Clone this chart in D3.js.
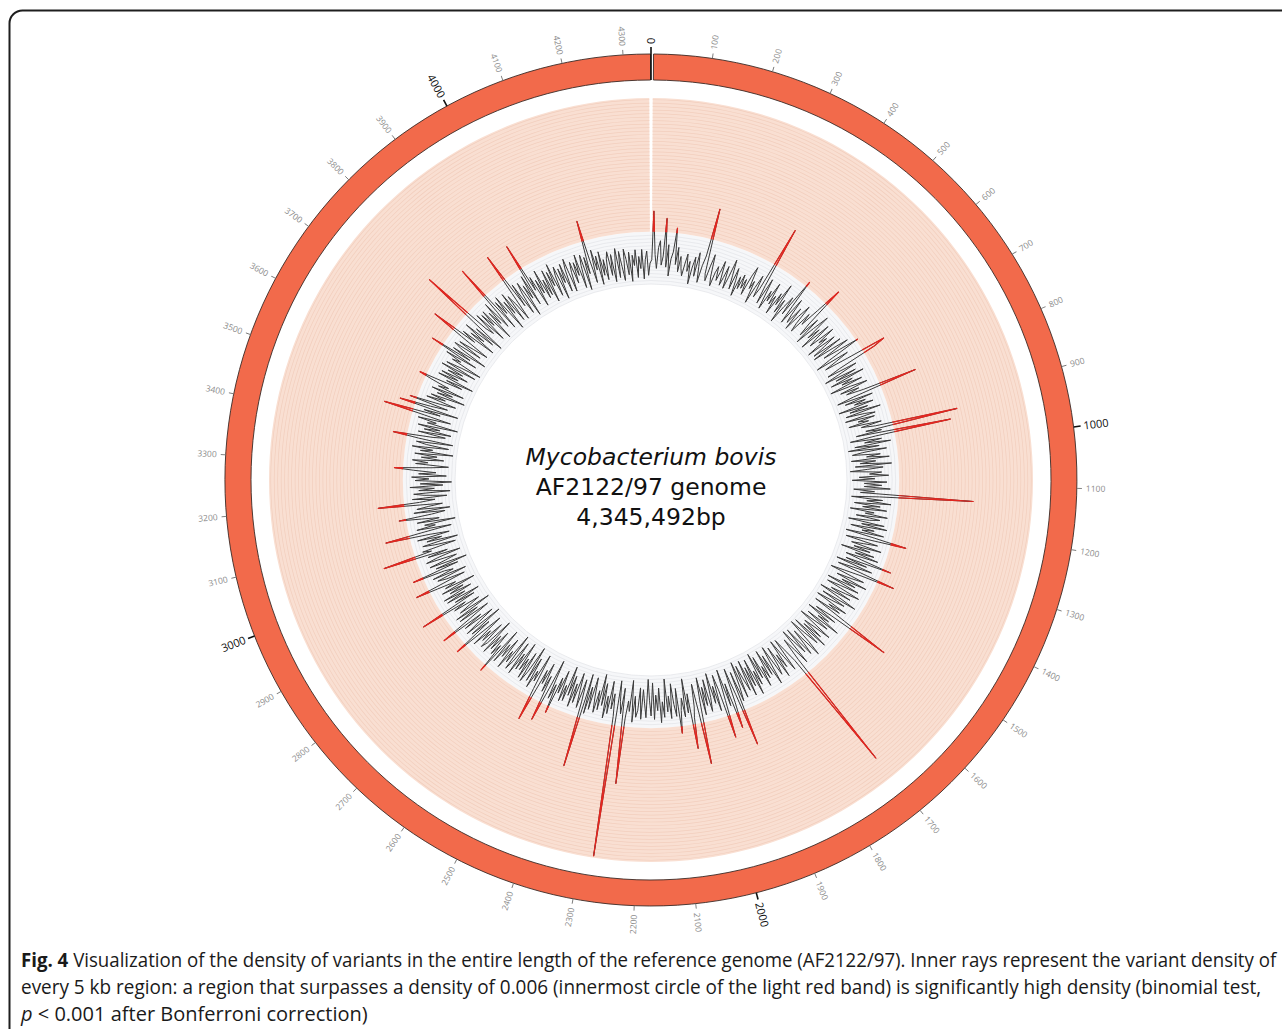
<!DOCTYPE html>
<html>
<head>
<meta charset="utf-8">
<script src="https://cdn.jsdelivr.net/npm/d3@7/dist/d3.min.js"></script>
<style>
  html, body { margin: 0; padding: 0; background: #fff; }
  svg { display: block; }
</style>
</head>
<body>
<svg id="chart" width="1282" height="1029"></svg>
<script>
// Genome and window settings
const genomeLength = 4345492;
const windowSize = 5000;
const thresholdCount = 30;      // 0.006 density = 30 variants per 5 kb
const bandMaxCount = 107;       // outer edge of the light red band

// Variants per 5 kb window, in genome order
const variantCounts = [
  14,42,17,9,21,25,11,16,38,10,23,5,15,19,33,12,22,8,17,10,
  6,13,19,9,15,2,12,18,7,21,13,4,14,20,48,10,6,15,22,9,
  4,12,16,8,13,20,6,11,18,5,12,23,14,6,19,12,3,15,8,17,
  9,15,6,18,24,11,16,3,13,21,8,14,53,17,6,22,12,4,16,10,
  22,9,15,4,18,11,25,7,16,2,13,20,9,33,16,5,22,12,7,18,
  4,14,22,10,5,19,12,24,40,15,7,20,3,15,25,9,17,3,22,12,
  7,23,12,17,3,21,13,5,23,4,16,26,9,19,31,11,2,22,14,6,
  20,44,37,13,5,23,12,2,21,8,25,4,17,10,22,2,14,24,7,18,
  10,20,52,13,3,24,7,19,12,23,2,19,8,26,5,16,22,4,21,11,
  17,5,24,12,20,68,14,23,8,63,19,4,22,12,27,6,20,2,24,10,
  4,20,12,25,3,17,8,26,5,21,12,2,20,13,24,7,16,3,23,10,
  20,10,25,4,16,8,73,19,3,21,12,26,5,20,10,24,3,17,12,25,
  7,21,15,3,24,11,26,5,19,12,25,3,20,39,14,4,23,15,8,26,
  10,20,3,23,12,26,7,17,35,8,21,3,25,14,5,40,20,10,2,23,
  16,7,26,11,20,3,23,12,4,25,17,8,21,2,15,26,5,20,12,3,
  23,12,20,4,25,54,17,7,21,3,18,11,26,5,20,11,2,24,14,7,
  20,8,25,3,21,12,2,17,26,7,16,23,4,20,11,3,25,15,7,21,
  93,20,11,4,24,14,3,20,11,25,5,17,22,3,13,26,7,19,3,20,
  12,24,5,18,2,21,12,26,4,20,8,25,3,21,14,5,24,2,17,25,
  7,51,20,4,24,39,12,25,3,21,43,14,5,26,11,21,3,17,25,6,
  21,10,26,4,18,54,24,7,20,26,44,12,23,3,25,14,21,34,8,24,
  17,5,25,12,21,2,24,15,27,7,20,11,25,4,23,14,2,24,16,8,
  25,7,20,24,12,27,3,21,15,25,63,8,23,16,4,106,25,12,21,5,
  24,14,27,7,20,2,23,12,25,16,5,24,11,27,4,59,21,8,25,15,
  5,23,12,26,8,20,3,24,15,25,7,21,12,34,17,26,3,23,41,14,
  24,7,20,12,44,25,4,21,15,26,8,23,2,18,25,7,24,12,20,3,
  21,11,25,5,18,24,2,21,14,26,7,20,12,25,4,34,16,23,8,21,
  12,25,3,20,24,7,21,14,26,5,18,36,11,23,2,25,15,5,24,12,
  38,18,5,24,11,25,2,21,14,7,23,15,43,8,20,4,24,12,25,7,
  20,11,24,3,21,14,25,38,7,18,23,5,25,12,17,36,8,21,2,24,
  14,7,25,18,4,23,11,49,20,25,5,17,24,3,21,12,26,7,18,44,
  23,5,25,14,20,2,24,11,21,34,15,7,25,4,23,16,8,45,21,12,
  25,5,18,24,3,21,12,26,7,20,2,23,15,25,5,21,11,24,35,14,
  4,23,16,25,7,20,11,24,2,21,14,26,5,18,24,3,23,38,15,8,
  24,5,21,12,25,2,20,15,26,7,23,47,14,24,4,39,21,11,34,16,
  7,25,14,23,3,20,11,24,5,21,15,26,34,8,18,2,24,12,23,7,
  20,11,25,4,23,14,2,21,16,26,7,37,12,24,3,20,25,8,23,14,
  5,24,44,16,25,4,21,12,26,7,20,2,24,59,16,11,25,5,23,14,
  24,3,21,12,26,8,18,49,5,23,14,25,2,20,11,24,5,21,15,4,
  21,46,11,25,5,18,24,2,21,12,26,7,45,15,23,4,20,11,25,7,
  18,8,23,3,21,12,25,5,17,22,2,20,11,22,5,18,24,4,15,21,
  8,20,12,24,4,17,23,2,21,11,42,18,5,24,12,20,3,22,8,17,
  5,17,21,7,19,3,14,22,5,20,11,3,21,15,6,19,2,17,11,20,
  4,16,9,20,3,14,19,5,12
];

// Ideogram tick positions (kb)
const tickKb = d3.range(0, 4400, 100);
const majorEvery = 1000;

// Centre title lines
const titleLines = ["Mycobacterium bovis", "AF2122/97 genome", "4,345,492bp"];

// Figure caption
const captionLines = [
  [{t: "Fig. 4", bold: true}, {t: " Visualization of the density of variants in the entire length of the reference genome (AF2122/97). Inner rays represent the variant density of"}],
  [{t: "every 5 kb region: a region that surpasses a density of 0.006 (innermost circle of the light red band) is significantly high density (binomial test,"}],
  [{t: "p", italic: true}, {t: " < 0.001 after Bonferroni correction)"}]
];
const captionRight = [1277, 1262, 368];

const svg = d3.select("#chart");

// Panel frame
svg.append("rect")
  .attr("x", 9.5).attr("y", 10.5)
  .attr("width", 1300).attr("height", 1040)
  .attr("rx", 13).attr("ry", 13)
  .attr("fill", "#fff").attr("stroke", "#1e1e1e").attr("stroke-width", 2);

const cx = 651, cy = 480;
const ringOuter = 426, ringInner = 400;
const g = svg.append("g").attr("transform", `translate(${cx},${cy})`);

const angle = d3.scaleLinear().domain([0, genomeLength]).range([0, 2 * Math.PI]);
const r = d3.scaleLinear().domain([0, bandMaxCount]).range([196, 382]);
const rThr = r(thresholdCount);
const gap = 0.0045;

// Inner grey band (0 .. threshold)
g.append("path")
  .attr("d", d3.arc()({innerRadius: r(0), outerRadius: rThr, startAngle: 0, endAngle: 2 * Math.PI}))
  .attr("fill", "#f6f7f9");
g.selectAll("circle.grey")
  .data(d3.range(0, thresholdCount, 2))
  .join("circle")
  .attr("class", "grey")
  .attr("r", d => r(d))
  .attr("fill", "none")
  .attr("stroke", "#e4e6ea")
  .attr("stroke-width", 0.8);

// Light red band (threshold .. max)
g.append("path")
  .attr("d", d3.arc()({innerRadius: rThr, outerRadius: r(bandMaxCount), startAngle: gap, endAngle: 2 * Math.PI - gap}))
  .attr("fill", "#f9dfd2");
const bandArc = d3.arc().startAngle(gap).endAngle(2 * Math.PI - gap);
g.selectAll("path.pink")
  .data(d3.range(thresholdCount + 2, bandMaxCount, 2))
  .join("path")
  .attr("class", "pink")
  .attr("d", d => bandArc({innerRadius: r(d) - 0.35, outerRadius: r(d) + 0.35}))
  .attr("fill", "#f2cebd");

// Ideogram ring
g.append("path")
  .attr("d", d3.arc()({innerRadius: ringInner, outerRadius: ringOuter, startAngle: 0.006, endAngle: 2 * Math.PI - 0.001}))
  .attr("fill", "#f26a4b")
  .attr("stroke", "#3a2a26")
  .attr("stroke-width", 0.9);

// Ticks and labels
const tickG = g.selectAll("g.tick")
  .data(tickKb)
  .join("g")
  .attr("class", "tick")
  .attr("transform", d => `rotate(${angle(d * 1000) * 180 / Math.PI - 90})`);
tickG.append("line")
  .attr("x1", d => d === 0 ? ringInner : ringOuter)
  .attr("x2", d => d % majorEvery === 0 ? ringOuter + 7 : ringOuter + 5)
  .attr("stroke", d => d % majorEvery === 0 ? "#111" : "#777")
  .attr("stroke-width", d => d % majorEvery === 0 ? 1.6 : 0.9);
tickG.append("text")
  .attr("transform", d => {
    const a = angle(d * 1000);
    const off = d % majorEvery === 0 ? ringOuter + 10 : ringOuter + 9;
    return a > Math.PI ? `translate(${off},0) rotate(180)` : `translate(${off},0)`;
  })
  .attr("text-anchor", d => angle(d * 1000) > Math.PI ? "end" : "start")
  .attr("dy", "0.35em")
  .attr("font-family", "'Open Sans', sans-serif")
  .attr("font-size", d => d % majorEvery === 0 ? 11 : 8.5)
  .attr("fill", d => d % majorEvery === 0 ? "#111" : "#8c8c8c")
  .text(d => d);

// Density line
const line = d3.lineRadial()
  .angle((d, i) => angle((i + 0.5) * windowSize))
  .radius(d => r(d))
  .curve(d3.curveLinearClosed);

const clipHigh = svg.append("defs").append("clipPath").attr("id", "above-threshold");
clipHigh.append("path")
  .attr("transform", `translate(${cx},${cy})`)
  .attr("d", d3.arc()({innerRadius: rThr, outerRadius: ringInner, startAngle: 0, endAngle: 2 * Math.PI}));

g.append("path")
  .attr("d", line(variantCounts))
  .attr("fill", "none")
  .attr("stroke", "#3a3a3a")
  .attr("stroke-width", 1.0)
  .attr("stroke-linejoin", "round");

svg.append("g")
  .attr("clip-path", "url(#above-threshold)")
  .append("path")
  .attr("transform", `translate(${cx},${cy})`)
  .attr("d", line(variantCounts))
  .attr("fill", "none")
  .attr("stroke", "#e3261f")
  .attr("stroke-width", 1.2)
  .attr("stroke-linejoin", "round");

// Centre title
g.selectAll("text.title")
  .data(titleLines)
  .join("text")
  .attr("class", "title")
  .attr("x", 0)
  .attr("y", (d, i) => -15 + i * 30)
  .attr("text-anchor", "middle")
  .attr("font-family", "'DejaVu Sans', sans-serif")
  .attr("font-size", 23.5)
  .attr("font-style", (d, i) => i === 0 ? "italic" : "normal")
  .attr("fill", "#111")
  .text(d => d);

// Caption: a condensed face is imitated by scaling each line horizontally
const captionLeft = 21;
captionLines.forEach((parts, i) => {
  const y = 967 + i * 27;
  const holder = svg.append("g");
  const t = holder.append("text")
    .attr("x", 0)
    .attr("y", 0)
    .attr("font-family", "'Open Sans', sans-serif")
    .attr("font-size", 20)
    .attr("fill", "#1a1a1a");
  parts.forEach(p => {
    t.append("tspan")
      .attr("font-weight", p.bold ? "bold" : "normal")
      .attr("font-style", p.italic ? "italic" : "normal")
      .text(p.t);
  });
  const natural = t.node().getComputedTextLength();
  const sx = (captionRight[i] - captionLeft) / natural;
  holder.attr("transform", `translate(${captionLeft},${y}) scale(${sx},1)`);
});
</script>
</body>
</html>
